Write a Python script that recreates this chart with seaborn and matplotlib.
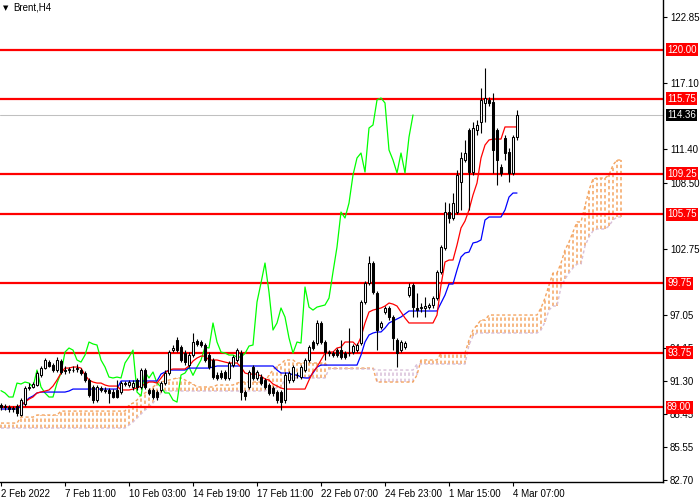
import matplotlib
matplotlib.use("Agg")
import matplotlib.pyplot as plt
import matplotlib.transforms as mtransforms
import numpy as np
import pandas as pd
import seaborn as sns

sns.set_theme(style="white")
plt.rcParams['font.family'] = ['Liberation Sans', 'DejaVu Sans']

symbol_label = "Brent,H4"

opens = [89.20, 89.03, 89.03, 88.86, 89.12, 88.34, 89.29, 90.68, 90.77, 90.94,
         91.81, 92.41, 92.93, 92.67, 92.24, 93.02, 92.24, 92.24, 92.24, 92.33,
         92.24, 91.98, 91.37, 90.77, 89.64, 90.68, 90.51, 90.51, 90.33, 90.51,
         90.33, 91.11, 90.94, 90.77, 91.37, 90.77, 92.24, 90.51, 90.51, 90.33,
         90.51, 91.11, 91.98, 93.97, 94.84, 94.23, 93.71, 92.67, 93.54, 94.76,
         94.67, 94.41, 93.54, 93.11, 91.81, 91.98, 92.07, 91.55, 92.67, 93.11,
         93.71, 90.33, 90.77, 92.50, 91.55, 91.63, 91.37, 90.94, 90.68, 90.33,
         90.33, 89.64, 91.37, 91.37, 91.81, 91.63, 92.24, 93.11, 94.67, 94.58,
         96.32, 94.67, 93.80, 93.71, 93.97, 93.97, 93.71, 93.71, 93.80, 93.97,
         94.58, 98.14, 99.79, 101.52, 98.92, 95.97, 97.27, 97.62, 96.84, 94.84,
         93.97, 94.23, 98.74, 99.61, 97.62, 97.62, 97.62, 97.70, 97.88, 98.48,
         100.74, 102.82, 105.94, 105.42, 105.94, 108.55, 110.45, 113.05, 109.41, 113.05,
         113.75, 115.40, 115.66, 115.48, 113.05, 109.85, 112.36, 111.15, 109.33, 112.45]
highs = [89.38, 89.29, 89.20, 89.12, 89.29, 89.81, 90.85, 91.11, 91.20, 92.15,
         92.59, 93.28, 93.11, 92.85, 93.37, 93.19, 92.59, 92.50, 92.59, 92.76,
         92.41, 92.15, 91.55, 90.94, 90.94, 90.85, 90.77, 90.68, 90.59, 91.37,
         91.29, 91.29, 91.37, 91.37, 91.55, 92.41, 92.41, 90.68, 90.68, 90.51,
         91.29, 92.24, 93.97, 94.41, 95.10, 94.41, 93.97, 93.80, 95.45, 94.93,
         94.84, 94.58, 93.80, 93.28, 92.07, 92.24, 92.24, 93.02, 93.54, 94.15,
         93.97, 90.51, 92.24, 92.67, 92.24, 91.89, 91.55, 91.11, 90.85, 90.51,
         90.51, 92.07, 92.15, 92.67, 92.07, 92.67, 93.28, 94.41, 94.84, 96.58,
         96.49, 94.84, 93.97, 93.89, 94.15, 94.84, 93.89, 95.88, 94.50, 94.58,
         98.31, 99.96, 102.13, 101.69, 99.09, 96.49, 97.79, 97.79, 97.01, 95.02,
         94.84, 94.76, 99.79, 99.79, 98.92, 98.05, 98.57, 98.05, 98.66, 100.91,
         103.08, 106.81, 106.72, 107.59, 109.59, 111.15, 112.19, 113.23, 113.75, 113.92,
         116.70, 118.43, 115.92, 116.26, 113.23, 110.11, 112.62, 111.49, 112.62, 114.79]
lows = [88.77, 88.77, 88.60, 88.60, 88.25, 88.25, 89.12, 90.51, 90.68, 90.85,
        91.63, 92.33, 92.50, 92.07, 92.07, 91.89, 91.89, 91.98, 92.07, 92.07,
        91.81, 91.20, 89.90, 89.38, 89.46, 90.33, 90.25, 89.38, 89.81, 89.81,
        90.16, 90.85, 90.77, 90.51, 90.51, 90.59, 90.59, 90.07, 89.72, 89.64,
        90.33, 90.94, 91.81, 93.80, 93.80, 92.93, 92.67, 92.50, 93.37, 94.32,
        94.23, 92.93, 92.33, 91.46, 91.37, 91.46, 91.37, 91.37, 92.50, 92.93,
        89.64, 89.64, 90.59, 91.37, 91.37, 90.94, 90.59, 90.07, 89.99, 89.38,
        88.77, 89.38, 91.11, 91.20, 91.55, 91.46, 92.07, 92.93, 93.97, 94.41,
        94.50, 93.11, 93.45, 93.37, 93.37, 93.19, 93.19, 93.45, 93.63, 93.80,
        94.41, 97.96, 99.61, 98.83, 93.97, 95.80, 97.10, 96.58, 93.97, 92.50,
        93.80, 94.06, 98.57, 96.84, 96.84, 97.27, 96.84, 97.53, 97.62, 98.31,
        100.57, 102.65, 104.99, 105.25, 105.77, 106.12, 110.28, 106.12, 109.15, 112.62,
        112.80, 113.75, 115.14, 109.33, 108.29, 109.07, 110.45, 108.55, 109.15, 112.19]
closes = [89.03, 89.12, 88.86, 88.94, 88.51, 89.64, 90.68, 90.77, 91.03, 91.98,
          92.41, 93.11, 92.59, 92.24, 93.11, 92.07, 92.15, 92.33, 92.20, 92.41,
          91.98, 91.37, 90.07, 89.64, 90.77, 90.51, 90.45, 90.25, 89.90, 89.90,
          91.11, 91.03, 91.20, 91.11, 90.77, 92.24, 90.77, 90.25, 89.90, 89.90,
          91.11, 91.98, 93.80, 94.15, 93.97, 93.11, 92.93, 93.54, 94.67, 94.50,
          94.41, 93.11, 92.50, 91.63, 91.55, 91.63, 91.55, 92.85, 93.37, 93.97,
          90.33, 89.99, 92.07, 91.55, 92.07, 91.11, 90.77, 90.25, 90.25, 89.64,
          89.46, 91.81, 91.98, 92.50, 91.78, 92.50, 93.11, 94.23, 94.15, 96.32,
          94.67, 93.80, 93.71, 93.54, 93.54, 93.37, 93.37, 93.68, 94.32, 94.41,
          98.14, 99.79, 101.52, 99.00, 95.71, 96.32, 97.62, 96.84, 95.02, 93.71,
          94.67, 94.58, 99.44, 97.70, 97.44, 97.70, 97.79, 97.88, 98.48, 100.74,
          102.91, 105.94, 105.42, 106.72, 109.15, 110.63, 111.06, 109.41, 113.23, 113.49,
          115.66, 115.83, 115.40, 111.32, 110.45, 109.33, 111.06, 109.33, 112.45, 114.36]

tenkan = [89.03, 89.03, 89.03, 89.03, 89.03, 89.20, 89.46, 89.72, 89.90, 90.25,
          90.33, 90.42, 90.51, 90.85, 91.37, 91.98, 92.41, 92.41, 92.50, 92.50,
          92.41, 91.81, 91.37, 91.20, 91.11, 91.11, 90.94, 90.85, 90.85, 90.85,
          90.51, 90.51, 90.51, 90.59, 90.68, 90.85, 91.03, 91.20, 91.20, 91.11,
          91.55, 91.98, 92.24, 92.33, 92.33, 92.33, 92.33, 92.59, 93.02, 93.28,
          93.45, 93.45, 93.11, 93.11, 93.11, 93.02, 92.93, 92.85, 92.85, 92.85,
          92.50, 91.98, 91.89, 91.89, 91.89, 91.72, 91.46, 91.37, 91.03, 90.85,
          90.68, 90.59, 90.59, 90.59, 90.59, 90.59, 90.59, 91.37, 92.07, 92.50,
          93.11, 93.71, 93.80, 93.80, 94.15, 94.23, 94.67, 94.67, 94.67, 94.32,
          95.10, 96.32, 97.27, 97.44, 97.53, 97.62, 97.79, 98.05, 97.96, 97.79,
          97.27, 96.75, 96.32, 96.32, 96.32, 96.32, 96.32, 96.32, 96.32, 97.01,
          99.61, 101.61, 101.78, 101.78, 103.08, 104.56, 105.16, 106.12, 107.42, 108.46,
          110.63, 111.75, 112.19, 112.27, 112.27, 112.27, 113.32, 113.32, 113.32, 113.32]
kijun = [88.86, 88.86, 88.86, 88.86, 88.86, 89.12, 89.46, 89.81, 89.99, 90.25,
         90.33, 90.33, 90.33, 90.33, 90.33, 90.33, 90.33, 90.42, 90.59, 90.59,
         90.59, 90.59, 90.59, 90.59, 90.59, 90.59, 90.59, 90.59, 90.59, 90.59,
         91.29, 91.29, 91.29, 91.29, 91.29, 91.29, 91.29, 91.29, 91.29, 91.29,
         91.89, 92.07, 92.24, 92.24, 92.24, 92.24, 92.24, 92.41, 92.41, 92.41,
         92.41, 92.41, 92.41, 92.50, 92.59, 92.59, 92.59, 92.59, 92.59, 92.59,
         92.59, 92.59, 92.59, 92.59, 92.59, 92.59, 92.59, 92.59, 92.59, 92.24,
         91.98, 91.98, 91.98, 91.81, 91.81, 91.63, 91.55, 91.55, 91.98, 92.50,
         92.67, 92.67, 92.67, 92.67, 92.67, 92.67, 92.67, 92.67, 92.67, 92.67,
         93.54, 94.67, 95.28, 95.45, 95.54, 95.54, 95.88, 96.32, 96.49, 96.66,
         96.84, 97.10, 97.36, 97.36, 97.36, 97.36, 97.36, 97.36, 97.36, 97.36,
         98.05, 98.74, 99.70, 99.70, 100.91, 102.04, 102.39, 102.47, 103.26, 103.34,
         103.52, 105.25, 105.51, 105.51, 105.51, 105.51, 106.12, 107.24, 107.59, 107.59]
span_a = [87.64, 87.64, 87.64, 87.64, 87.64, 88.16, 88.16, 88.16, 88.16, 88.34,
          88.34, 88.34, 88.34, 88.34, 88.34, 88.68, 88.68, 88.68, 88.68, 88.68,
          88.68, 88.68, 88.68, 88.68, 88.68, 88.68, 88.68, 88.68, 88.68, 88.68,
          88.68, 88.68, 89.20, 89.38, 89.64, 90.07, 90.25, 90.51, 90.77, 91.03,
          91.20, 91.29, 91.37, 91.46, 91.55, 91.55, 91.37, 91.20, 91.03, 90.77,
          90.77, 90.77, 90.77, 90.77, 90.94, 90.94, 90.94, 90.94, 90.94, 91.11,
          91.20, 91.20, 91.20, 91.20, 91.20, 91.20, 91.20, 91.81, 92.24, 92.59,
          92.76, 93.11, 93.11, 93.11, 92.85, 92.85, 92.85, 92.85, 92.85, 92.85,
          92.85, 92.85, 92.41, 92.41, 92.41, 92.41, 92.41, 92.41, 92.41, 92.41,
          92.41, 92.41, 92.41, 92.41, 91.20, 91.20, 91.20, 91.20, 91.20, 91.20,
          91.20, 91.20, 91.20, 91.20, 91.81, 93.11, 93.11, 93.11, 93.11, 93.11,
          93.71, 93.71, 93.71, 93.71, 93.71, 93.71, 93.71, 94.84, 95.71, 96.14,
          96.58, 96.58, 97.01, 97.01, 97.01, 97.01, 97.01, 97.01, 97.01, 97.01,
          97.01, 97.01, 97.01, 97.01, 97.01, 97.62, 98.48, 99.61, 100.65, 100.65,
          101.52, 102.65, 103.34, 104.21, 105.08, 105.08, 106.46, 107.85, 108.81, 108.89,
          108.89, 108.89, 109.15, 110.02, 110.45, 110.45]
span_b = [87.21, 87.21, 87.21, 87.21, 87.21, 87.21, 87.21, 87.21, 87.21, 87.21,
          87.21, 87.21, 87.21, 87.21, 87.21, 87.21, 87.21, 87.21, 87.21, 87.21,
          87.21, 87.21, 87.21, 87.21, 87.21, 87.21, 87.21, 87.21, 87.21, 87.21,
          87.21, 87.21, 87.47, 87.73, 88.08, 88.42, 88.77, 89.03, 89.38, 89.81,
          90.25, 90.42, 90.42, 90.42, 90.42, 90.42, 90.42, 90.42, 90.42, 90.42,
          90.42, 90.42, 90.42, 90.42, 90.42, 90.42, 90.42, 90.42, 90.42, 90.42,
          90.42, 90.42, 90.42, 90.42, 90.42, 90.42, 90.42, 90.68, 90.68, 90.68,
          90.68, 91.55, 91.55, 91.55, 91.55, 91.55, 91.55, 91.55, 91.55, 91.55,
          91.55, 91.55, 92.33, 92.33, 92.33, 92.33, 92.33, 92.33, 92.33, 92.33,
          92.33, 92.33, 92.33, 92.33, 92.24, 92.24, 92.24, 92.24, 92.24, 92.24,
          92.24, 92.24, 92.24, 92.24, 92.76, 92.76, 92.76, 92.76, 92.76, 92.76,
          92.76, 92.76, 92.76, 92.76, 92.76, 92.76, 92.76, 94.41, 95.19, 95.45,
          95.45, 95.45, 95.45, 95.45, 95.45, 95.45, 95.45, 95.45, 95.45, 95.45,
          95.45, 95.45, 95.45, 95.45, 95.45, 95.71, 96.40, 97.44, 97.79, 97.79,
          99.44, 100.13, 100.65, 101.09, 101.43, 101.43, 102.99, 103.78, 104.30, 104.47,
          104.47, 104.47, 104.73, 105.25, 105.51, 105.51]
chikou_shift = 26

levels = [120.00, 115.75, 109.25, 105.75, 99.75, 93.75, 89.00]
last_price = 114.36
price_ticks = [122.85, 117.10, 111.40, 108.50, 102.75, 97.05, 94.15, 91.30, 88.45, 85.55, 82.70]
time_tick_bars = [0, 16, 32, 48, 64, 80, 96, 112, 128]
time_tick_labels = ["2 Feb 2022", "7 Feb 11:00", "10 Feb 03:00", "14 Feb 19:00",
                    "17 Feb 11:00", "22 Feb 07:00", "24 Feb 23:00", "1 Mar 15:00", "4 Mar 07:00"]

W, H = 700, 500
fig = plt.figure(figsize=(W / 100, H / 100), dpi=100)
fig.patch.set_facecolor("white")
ax = fig.add_axes([0, 18 / H, 663 / W, 482 / H])
ax.set_facecolor("white")

n = len(closes)
bars = np.arange(n)
df = pd.DataFrame({"bar": bars, "open": opens, "high": highs, "low": lows, "close": closes,
                   "tenkan": tenkan, "kijun": kijun})
cloud = pd.DataFrame({"bar": np.arange(len(span_a)), "a": span_a, "b": span_b})
chik = pd.DataFrame({"bar": bars[:n - chikou_shift], "chikou": closes[chikou_shift:]})

SANDY = "#F4A460"
THISTLE = "#D8BFD8"
dash = (0, (2.2, 1.8))

# cloud hatch (one dotted column per bar)
up = cloud[cloud.a >= cloud.b]
dn = cloud[cloud.a < cloud.b]
ax.vlines(up.bar, up[["a", "b"]].min(axis=1), up[["a", "b"]].max(axis=1),
          colors=SANDY, linestyles=dash, linewidth=1.1, zorder=1, snap=True)
ax.vlines(dn.bar, dn[["a", "b"]].min(axis=1), dn[["a", "b"]].max(axis=1),
          colors=THISTLE, linestyles=dash, linewidth=1.1, zorder=1, snap=True)
sns.lineplot(data=cloud, x="bar", y="a", ax=ax, color=SANDY, linewidth=1.0,
             linestyle=dash, zorder=1.5)
sns.lineplot(data=cloud, x="bar", y="b", ax=ax, color=THISTLE, linewidth=1.0,
             linestyle=dash, zorder=1.5)

# horizontal levels
ax.axhline(last_price, color="#C0C0C0", linewidth=0.75, zorder=2, snap=True)
for lv in levels:
    ax.axhline(lv, color="#FF0000", linewidth=1.6, zorder=2, snap=True)

# ichimoku lines
sns.lineplot(data=chik, x="bar", y="chikou", ax=ax, color="#00FF00", linewidth=0.9, zorder=3)
sns.lineplot(data=df, x="bar", y="kijun", ax=ax, color="#0000FF", linewidth=0.9, zorder=3)
sns.lineplot(data=df, x="bar", y="tenkan", ax=ax, color="#FF0000", linewidth=0.9, zorder=3)

# candles
ax.vlines(df.bar, df.low, df.high, colors="black", linewidth=0.8, zorder=4, snap=True)
bull = df[df.close >= df.open]
bear = df[df.close < df.open]
ax.bar(bull.bar, (bull.close - bull.open).clip(lower=0.06), bottom=bull.open, width=0.72,
       color="white", edgecolor="black", linewidth=0.75, zorder=5)
ax.bar(bear.bar, (bear.open - bear.close).clip(lower=0.06), bottom=bear.close, width=0.72,
       color="black", edgecolor="black", linewidth=0.75, zorder=5)

ax.set_xlim(-0.25, 165.5)
ax.set_ylim(82.53, 124.33)
ax.set_xlabel("")
ax.set_ylabel("")
ax.grid(False)
if ax.get_legend():
    ax.get_legend().remove()

for s in ["top", "left"]:
    ax.spines[s].set_visible(False)
for s in ["right", "bottom"]:
    ax.spines[s].set_visible(True)
    ax.spines[s].set_color("black")
    ax.spines[s].set_linewidth(1.0)

ax.yaxis.tick_right()
ax.set_yticks(price_ticks)
ax.set_yticklabels([f"{t:.2f}" for t in price_ticks])
ax.tick_params(axis="y", direction="out", length=3, width=0.8, labelsize=7, pad=2,
               colors="black", right=True, left=False)
ax.set_xticks(time_tick_bars)
ax.set_xticklabels(time_tick_labels, ha="left")
ax.tick_params(axis="x", direction="out", length=3, width=0.8, labelsize=7, pad=2,
               colors="black", bottom=True)

trans = mtransforms.blended_transform_factory(ax.transAxes, ax.transData)
for lv in levels:
    ax.text(1.0 + 4 / 663, lv, f"{lv:.2f}", transform=trans, ha="left", va="center", fontsize=7,
            color="white", zorder=10, clip_on=False,
            bbox=dict(boxstyle="square,pad=0.15", fc="#FF0000", ec="none"))
ax.text(1.0 + 4 / 663, last_price, f"{last_price:.2f}", transform=trans, ha="left", va="center",
        fontsize=7, color="white", zorder=10, clip_on=False,
        bbox=dict(boxstyle="square,pad=0.15", fc="black", ec="none"))

fig.text(3 / W, 1 - 8 / H, "\u25BC", fontsize=5, color="black", ha="left", va="center",
         family=["DejaVu Sans"])
fig.text(13 / W, 1 - 8 / H, symbol_label, fontsize=7, color="black", ha="left", va="center")

fig.savefig("out.png", dpi=100, facecolor="white")
